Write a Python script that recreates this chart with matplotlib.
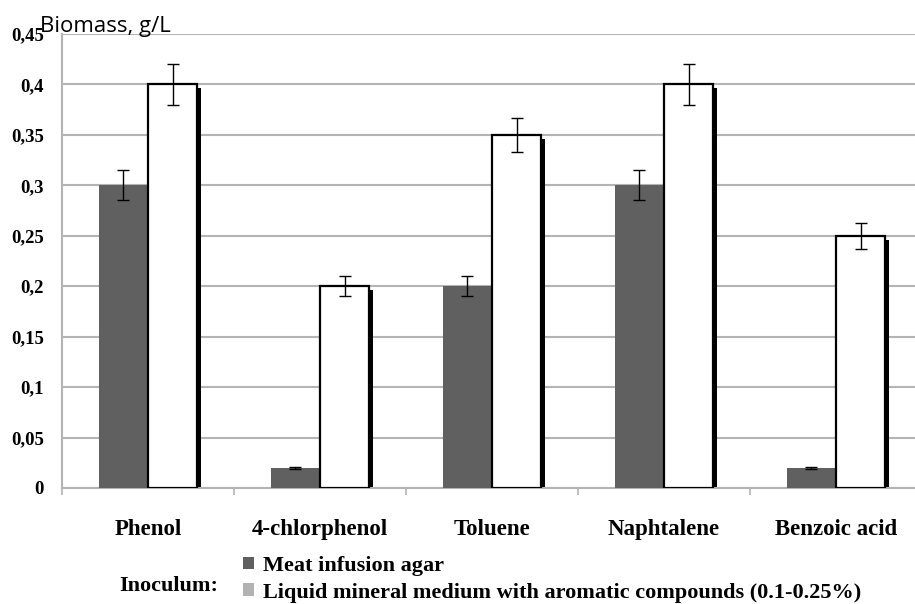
import numpy as np
import matplotlib.pyplot as plt
from matplotlib.patches import Patch
from matplotlib.ticker import FixedLocator, FuncFormatter

categories = ['Phenol', '4-chlorphenol', 'Toluene', 'Naphtalene', 'Benzoic acid']
meat_agar = [0.30, 0.02, 0.20, 0.30, 0.02]
meat_agar_err = [0.015, 0.001, 0.010, 0.015, 0.001]
mineral_medium = [0.40, 0.20, 0.35, 0.40, 0.25]
mineral_medium_err = [0.020, 0.010, 0.017, 0.020, 0.013]
series_labels = ['Meat infusion agar',
                 'Liquid mineral medium with aromatic compounds (0.1-0.25%)']

serif = 'Liberation Serif'
grid_col = '#b4b4b4'
dark = '#606060'

fig = plt.figure(figsize=(9.15, 6.04), dpi=100)
ax = fig.add_axes([62 / 915, 1 - 488 / 604, 860 / 915, 454 / 604])

x = np.arange(len(categories))
w = 0.285

ax.bar(x - w / 2, meat_agar, w, color=dark, zorder=3)
# drop shadow behind the white bars
ax.bar(x + w - 0.006, np.array(mineral_medium) - 0.004, 0.032, align='edge',
       bottom=0, color='black', zorder=2)
ax.bar(x + w / 2, mineral_medium, w, color='white', edgecolor='black',
       linewidth=1.6, zorder=3)

ax.errorbar(x - w / 2, meat_agar, yerr=meat_agar_err, fmt='none', ecolor='black',
            elinewidth=1, capsize=4, capthick=1, zorder=4)
ax.errorbar(x + w / 2, mineral_medium, yerr=mineral_medium_err, fmt='none',
            ecolor='black', elinewidth=1, capsize=4, capthick=1, zorder=4)

ax.set_xlim(-0.5, len(categories) - 0.5)
ax.set_ylim(0, 0.45)
ax.yaxis.set_major_locator(FixedLocator(np.arange(0, 0.451, 0.05)))
ax.yaxis.set_major_formatter(FuncFormatter(
    lambda v, p: '0' if abs(v) < 1e-9 else f'{v:.2f}'.rstrip('0').replace('.', ',')))
ax.grid(axis='y', color=grid_col, linewidth=1.5, zorder=0)
ax.set_axisbelow(True)

ax.set_xticks(x)
ax.set_xticklabels(categories, fontfamily=serif, fontweight='bold', fontsize=16.5)
ax.set_xticks(np.arange(-0.5, len(categories)), minor=True)
ax.tick_params(axis='x', which='major', length=0, pad=22)
ax.tick_params(axis='x', which='minor', length=5, width=1.2, color=grid_col)
ax.tick_params(axis='y', length=0, pad=13)
for lbl in ax.get_yticklabels():
    lbl.set_fontfamily(serif)
    lbl.set_fontweight('bold')
    lbl.set_fontsize(13.5)

for s in ['top', 'right']:
    ax.spines[s].set_visible(False)
for s in ['left', 'bottom']:
    ax.spines[s].set_color(grid_col)
    ax.spines[s].set_linewidth(1.5)

fig.text(40 / 915, 1 - 32 / 604, 'Biomass, g/L', fontfamily='Open Sans',
         fontsize=16, va='baseline', ha='left')

fig.text(119 / 915, 1 - 591 / 604, 'Inoculum:', fontfamily=serif,
         fontweight='bold', fontsize=16, va='baseline', ha='left')

handles = [Patch(facecolor=dark, edgecolor='none'),
           Patch(facecolor='#b2b2b2', edgecolor='none')]
fig.legend(handles, series_labels, loc='upper left',
           bbox_to_anchor=(243 / 915, 1 - 556 / 604), frameon=False,
           prop={'family': serif, 'weight': 'bold', 'size': 16},
           handlelength=0.5, handleheight=0.5, handletextpad=0.4,
           labelspacing=0.3, borderpad=0, borderaxespad=0)

fig.savefig('out.png', dpi=100)
